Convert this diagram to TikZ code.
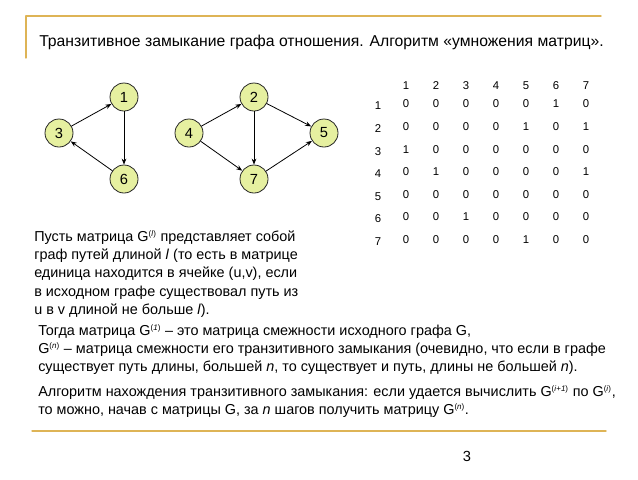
\documentclass[tikz,border=0pt]{standalone}
\usepackage{fontspec}
\setmainfont{Liberation Sans}
\usetikzlibrary{arrows.meta}

\definecolor{framegold}{RGB}{222,180,86}
\definecolor{vertexfill}{RGB}{230,240,160}

\tikzset{
  vertex/.style={
    circle,
    draw=black!85,
    line width=0.6pt,
    fill=vertexfill,
    minimum size=21pt,
    inner sep=0pt,
    font=\fontsize{11}{11}\selectfont
  },
  edgearrow/.style={
    -{Stealth[length=4.5pt,width=3.5pt]},
    line width=0.6pt
  },
  entry/.style={
    inner sep=0pt,
    font=\fontsize{8.5}{8.5}\selectfont
  },
  textblock/.style={
    anchor=north west,
    align=left,
    inner sep=0pt,
    font=\fontsize{10.8}{13.7}\selectfont
  }
}

\newcommand{\sups}[1]{\textsuperscript{\fontsize{6}{6}\selectfont(#1)}}

\begin{document}
\begin{tikzpicture}[
  x=0.75pt,
  y=-0.75pt,
  line cap=round,
  line join=round
]
  \useasboundingbox (0,0) rectangle (638,479);

  % Рамка слайда
  \draw[framegold, line width=1pt]
    (26,58) -- (26,16) -- (601,16);

  \draw[framegold, line width=1pt]
    (32,431) -- (606,431);

  % Заголовок
  \node[anchor=base west, inner sep=0pt, font=\fontsize{11.8}{11.8}\selectfont] (title)
    at (39,46)
    {Транзитивное замыкание графа отношения. Алгоритм «умножения матриц».};

  % Первый граф
  \node[vertex] (v1) at (124,97) {1};
  \node[vertex] (v3) at (59,133) {3};
  \node[vertex] (v6) at (124,179) {6};

  \draw[edgearrow] (v3) -- (v1);
  \draw[edgearrow] (v1) -- (v6);
  \draw[edgearrow] (v6) -- (v3);

  % Второй граф
  \node[vertex] (v2) at (254,97) {2};
  \node[vertex] (v4) at (189,133) {4};
  \node[vertex] (v5) at (324,133) {5};
  \node[vertex] (v7) at (254,179) {7};

  \draw[edgearrow] (v4) -- (v2);
  \draw[edgearrow] (v4) -- (v7);
  \draw[edgearrow] (v2) -- (v7);
  \draw[edgearrow] (v2) -- (v5);
  \draw[edgearrow] (v7) -- (v5);

  % Матрица смежности
  \foreach \j in {1,...,7}
    \node[entry] (col\j) at ({376+30*\j},86) {\j};

  \foreach \row [count=\i] in {
    {0,0,0,0,0,1,0},
    {0,0,0,0,1,0,1},
    {1,0,0,0,0,0,0},
    {0,1,0,0,0,0,1},
    {0,0,0,0,0,0,0},
    {0,0,1,0,0,0,0},
    {0,0,0,0,1,0,0}} {
    \node[entry] (row\i) at (378,{83.4+22.6*\i}) {\i};
    \foreach \v [count=\j] in \row
      \node[entry] (m\i\j) at ({376+30*\j},{81.4+22.6*\i}) {\v};
  }

  % Пояснения
  \node[textblock] (note1) at (34,230)
    {Пусть матрица G\sups{\textit{l}} представляет собой\\
     граф путей длиной \textit{l} (то есть в матрице\\
     единица находится в ячейке (u,v), если\\
     в исходном графе существовал путь из\\
     u в v длиной не больше \textit{l}).};

  \node[textblock] (note2) at (38,324)
    {Тогда матрица G\sups{\textit{1}} – это матрица смежности исходного графа G,\\
     G\sups{\textit{n}} – матрица смежности его транзитивного замыкания (очевидно, что если в графе\\
     существует путь длины, большей \textit{n}, то существует и путь, длины не большей \textit{n}).};

  \node[textblock] (note3) at (38,385)
    {Алгоритм нахождения транзитивного замыкания: если удается вычислить G\sups{\textit{i}+\textit{1}} по G\sups{\textit{i}},\\
     то можно, начав с матрицы G, за \textit{n} шагов получить матрицу G\sups{\textit{n}}.};

  % Номер слайда
  \node[inner sep=0pt, font=\fontsize{11}{11}\selectfont] (pagenum)
    at (467,456) {3};
\end{tikzpicture}
\end{document}
